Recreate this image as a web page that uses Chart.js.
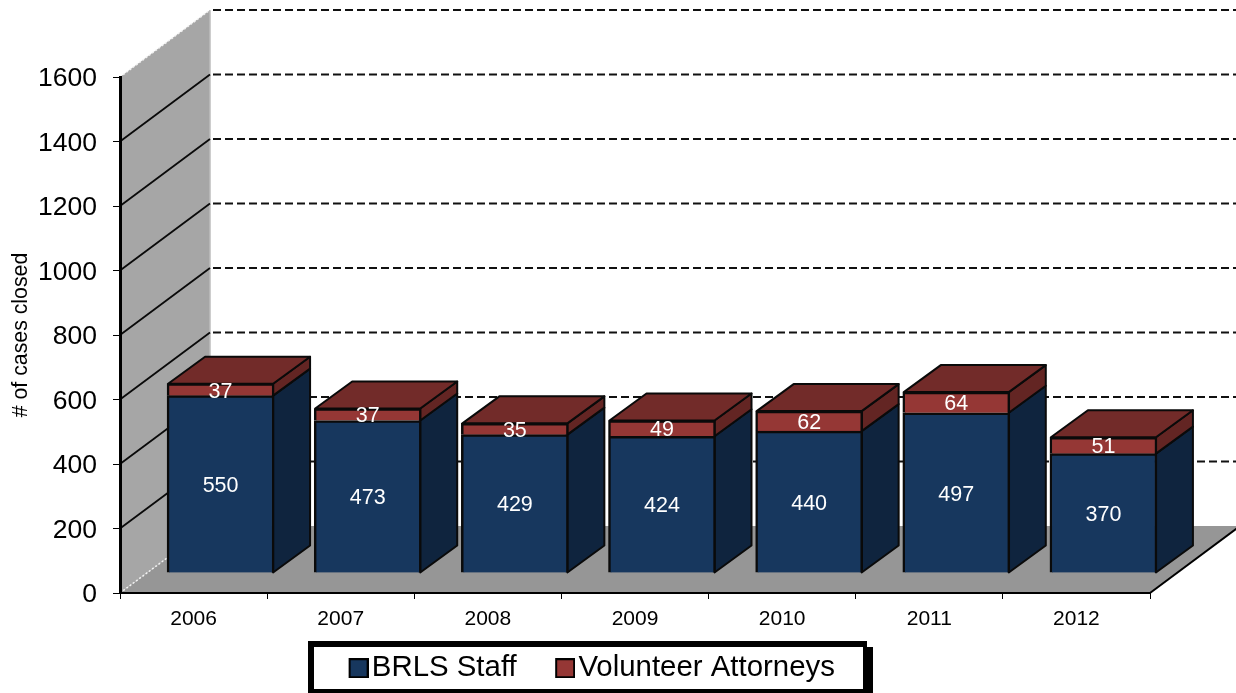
<!DOCTYPE html>
<html><head><meta charset="utf-8">
<style>html,body{margin:0;padding:0;background:#fff;overflow:hidden}canvas{display:block}</style>
<script src="https://cdn.jsdelivr.net/npm/chart.js@4"></script>
</head><body><canvas id="c" width="1236" height="693"></canvas>
<script>
const categories = ['2006','2007','2008','2009','2010','2011','2012'];
const staff = [550,473,429,424,440,497,370];
const volunteers = [37,37,35,49,62,64,51];
const seriesNames = ['BRLS Staff','Volunteer Attorneys'];

const FONT = '"Liberation Sans", Arial, sans-serif';
const wallD = {x:90, y:67};
const barShift = {x:27, y:20};
const barD = {x:37, y:27};
const cols = [
 {front:'#17375e', side:'#0f243e'},
 {front:'#953735', side:'#632523', top:'#722b29'}
];
function swatch(color){
  const c=document.createElement('canvas');c.width=24;c.height=20;
  const g=c.getContext('2d');g.fillStyle=color;g.fillRect(5,1,18,18);
  g.strokeStyle='#000';g.lineWidth=2;g.strokeRect(5,1,18,18);return c;
}
function poly(ctx,pts,fill,stroke,lw){
  ctx.beginPath();pts.forEach((p,i)=>i?ctx.lineTo(p[0],p[1]):ctx.moveTo(p[0],p[1]));ctx.closePath();
  if(fill){ctx.fillStyle=fill;ctx.fill();}
  if(stroke){ctx.strokeStyle=stroke;ctx.lineWidth=lw||1.5;ctx.lineJoin='round';ctx.stroke();}
}
const scene = {
  id:'scene',
  beforeLayout(chart){
    const l=chart.legend;
    if(l&&!l._wrapped){
      const f=l.fit;
      l.fit=function(){f.call(this);this.height=0;};
      l._wrapped=true;
    }
  },
  afterLayout(chart){
    const l=chart.legend;
    l.left=266;l.right=925;l.width=659;
    l.top=607.5;l.bottom=693;l.height=85.5;
  },
  beforeDraw(chart){
    const ctx=chart.ctx;
    ctx.save();
    ctx.fillStyle='#000';ctx.fillRect(313,647,560,46);
    ctx.fillRect(308,641,559,52);
    ctx.fillStyle='#fff';ctx.fillRect(314,647,549,42);
    ctx.restore();
  },
  beforeDatasetsDraw(chart){
    const ctx=chart.ctx,a=chart.chartArea,y=chart.scales.y,dx=wallD.x,dy=wallD.y;
    ctx.save();
    poly(ctx,[[a.left,a.top],[a.left+dx,a.top-dy],[a.left+dx,a.bottom-dy],[a.left,a.bottom]],'#a6a6a6');
    ctx.strokeStyle='#bdbdbd';ctx.lineWidth=1.5;
    ctx.beginPath();ctx.moveTo(a.left+dx,a.top-dy);ctx.lineTo(a.left+dx,a.bottom-dy);ctx.stroke();
    y.ticks.forEach(t=>{
      const p=y.getPixelForValue(t.value);
      if(t.value>0&&t.value<y.max){
        ctx.setLineDash([]);ctx.strokeStyle='#0a0a0a';ctx.lineWidth=1.8;
        ctx.beginPath();ctx.moveTo(a.left,p);ctx.lineTo(a.left+dx,p-dy);ctx.stroke();
      }
      if(t.value>0){
        ctx.setLineDash([8,4]);ctx.strokeStyle='#111';ctx.lineWidth=2.2;
        ctx.beginPath();ctx.moveTo(a.left+dx+3,p-dy);ctx.lineTo(a.right+dx,p-dy);ctx.stroke();
      }
    });
    ctx.setLineDash([]);
    poly(ctx,[[a.left,a.bottom],[a.right,a.bottom],[a.right+dx,a.bottom-dy],[a.left+dx,a.bottom-dy]],'#969696');
    ctx.strokeStyle='#000';ctx.lineWidth=2;
    ctx.beginPath();ctx.moveTo(a.right,a.bottom);ctx.lineTo(a.right+dx,a.bottom-dy);ctx.stroke();
    ctx.setLineDash([2,2]);ctx.strokeStyle='#f2f2f2';ctx.lineWidth=1.5;
    ctx.beginPath();ctx.moveTo(a.left,a.top);ctx.lineTo(a.left+dx,a.top-dy);ctx.stroke();
    ctx.beginPath();ctx.moveTo(a.left,a.bottom);ctx.lineTo(a.left+dx,a.bottom-dy);ctx.stroke();
    ctx.restore();
    ctx.save();
    ctx.translate(barShift.x,-barShift.y);
    chart.getSortedVisibleDatasetMetas().forEach(m=>{
      const c=cols[m.index];
      m.data.forEach(el=>{
        const r=el.x+el.width/2-1;
        poly(ctx,[[r,el.y],[r+barD.x,el.y-barD.y],[r+barD.x,el.base-barD.y],[r,el.base]],c.side,'#0a0a0a',2);
        if(m.index===1){
          const l=el.x-el.width/2+1;
          poly(ctx,[[l,el.y],[l+barD.x,el.y-barD.y],[r+barD.x,el.y-barD.y],[r,el.y]],c.top,'#0a0a0a',2);
        }
      });
    });
  },
  afterDatasetsDraw(chart){
    const ctx=chart.ctx;
    ctx.font='21.5px '+FONT;ctx.fillStyle='#fff';ctx.textAlign='center';ctx.textBaseline='middle';
    chart.getSortedVisibleDatasetMetas().forEach(m=>{
      m.data.forEach((el,i)=>{
        const v=chart.data.datasets[m.index].data[i];
        ctx.fillText(String(v),el.x,(el.y+el.base)/2+2);
      });
    });
    ctx.restore();
  }
};
new Chart(document.getElementById('c'),{
  type:'bar',
  data:{labels:categories,datasets:[
    {label:seriesNames[0],data:staff,backgroundColor:cols[0].front,borderColor:'#0a0a0a',borderWidth:2.5,stack:'a',barThickness:107,clip:false},
    {label:seriesNames[1],data:volunteers,backgroundColor:cols[1].front,borderColor:'#0a0a0a',borderWidth:2.5,stack:'a',barThickness:107,clip:false}
  ]},
  options:{
    responsive:false,animation:false,
    layout:{padding:{left:0,right:86,top:77,bottom:60}},
    plugins:{
      tooltip:{enabled:false},
      legend:{
        position:'bottom',
        labels:{
          usePointStyle:true,boxWidth:1,boxHeight:1,padding:46,color:'#000',
          font:{family:FONT,size:29.4},
          generateLabels(chart){
            return Chart.defaults.plugins.legend.labels.generateLabels(chart).map((it,i)=>{
              it.pointStyle=swatch(cols[i].front);it.lineWidth=0;return it;
            });
          }
        }
      }
    },
    scales:{
      x:{
        stacked:true,
        afterFit(s){s.height=40;},
        border:{color:'#000',width:2,z:1},
        grid:{drawOnChartArea:false,drawTicks:true,tickLength:6,color:'#000',lineWidth:1},
        ticks:{color:'#000',font:{family:FONT,size:21},padding:8,maxRotation:0}
      },
      y:{
        stacked:true,min:0,max:1600,
        afterFit(s){s.width=120;},
        border:{color:'#000',width:3,z:1},
        grid:{drawOnChartArea:false,drawTicks:true,tickLength:7,color:'#000',lineWidth:1},
        ticks:{stepSize:200,color:'#000',font:{family:FONT,size:26.5},padding:16,labelOffset:2,callback:v=>String(v)},
        title:{display:true,text:'# of cases closed',color:'#000',font:{family:FONT,size:21.3},padding:{top:8,bottom:0}}
      }
    }
  },
  plugins:[scene]
});
</script></body></html>
